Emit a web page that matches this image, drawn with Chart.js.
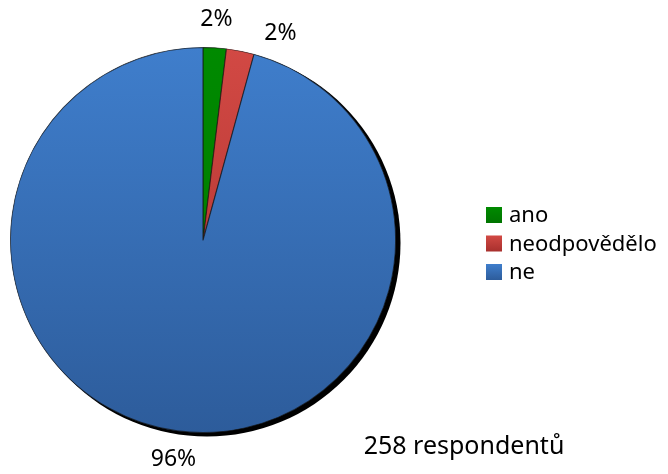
<!DOCTYPE html>
<html>
<head>
<meta charset="utf-8">
<script src="https://cdn.jsdelivr.net/npm/chart.js@4/dist/chart.umd.min.js"></script>
<style>
html,body{margin:0;padding:0;background:#fff;}
#wrap{position:relative;width:668px;height:474px;}
</style>
</head>
<body>
<div id="wrap"><canvas id="c" width="668" height="474"></canvas></div>
<script>
const categories = ["ano", "neodpovědělo", "ne"];
const counts = [5, 6, 247];
const percentLabels = ["2%", "2%", "96%"];
const noteText = "258 respondentů";
const topColors = ["#008a00", "#d24944", "#3f7ecc"];
const bottomColors = ["#007400", "#a8302d", "#2d5c9b"];
const FONT = "'Noto Sans', 'Liberation Sans', sans-serif";

function grad(ctx, i) {
  const chart = ctx.chart;
  const a = chart.chartArea;
  if (!a) return topColors[i];
  const g = chart.ctx.createLinearGradient(0, a.top, 0, a.bottom);
  g.addColorStop(0, topColors[i]);
  g.addColorStop(1, bottomColors[i]);
  return g;
}

const shadowPlugin = {
  id: 'shadow',
  beforeDatasetsDraw(chart) {
    const arc = chart.getDatasetMeta(0).data[0];
    if (!arc) return;
    const ctx = chart.ctx;
    ctx.save();
    ctx.fillStyle = '#000';
    ctx.filter = 'blur(0.6px)';
    ctx.beginPath();
    ctx.arc(arc.x + 4, arc.y + 3, arc.outerRadius + 0.5, 0, Math.PI * 2);
    ctx.fill();
    ctx.restore();
  }
};

const labelPlugin = {
  id: 'labels',
  afterDatasetsDraw(chart) {
    const ctx = chart.ctx;
    const meta = chart.getDatasetMeta(0);
    ctx.save();
    ctx.fillStyle = '#000';
    ctx.textAlign = 'center';
    ctx.textBaseline = 'middle';
    ctx.font = '23px ' + FONT;
    let prevAngle = -Infinity;
    meta.data.forEach((arc, i) => {
      let mid = (arc.startAngle + arc.endAngle) / 2;
      const minSep = 17 * Math.PI / 180;
      if (mid < prevAngle + minSep) mid = prevAngle + minSep;
      prevAngle = mid;
      const R = arc.outerRadius + 28;
      const x = arc.x + Math.cos(mid) * R;
      const y = arc.y + Math.sin(mid) * R;
      ctx.fillText(percentLabels[i], x, y);
    });
    // note
    ctx.font = '25px ' + FONT;
    ctx.fillText(noteText, 464, 447);
    // legend
    ctx.font = '22px ' + FONT;
    ctx.textAlign = 'left';
    categories.forEach((c, i) => {
      const y = 215 + i * 28.5;
      const g = ctx.createLinearGradient(0, y - 8, 0, y + 8);
      g.addColorStop(0, topColors[i]);
      g.addColorStop(1, bottomColors[i]);
      ctx.fillStyle = g;
      ctx.fillRect(486, y - 8, 16, 16);
      ctx.fillStyle = '#000';
      ctx.fillText(c, 509, y + 1);
    });
    ctx.restore();
  }
};

new Chart(document.getElementById('c'), {
  type: 'pie',
  data: {
    labels: categories,
    datasets: [{
      data: counts,
      backgroundColor: (ctx) => grad(ctx, ctx.dataIndex),
      borderColor: 'rgba(20,20,20,0.7)',
      borderWidth: 0.6,
      borderAlign: 'inner'
    }]
  },
  options: {
    responsive: false,
    animation: false,
    layout: { padding: { left: 10, right: 272, top: 47, bottom: 41 } },
    plugins: {
      legend: { display: false },
      tooltip: { enabled: false }
    }
  },
  plugins: [shadowPlugin, labelPlugin]
});
</script>
</body>
</html>
